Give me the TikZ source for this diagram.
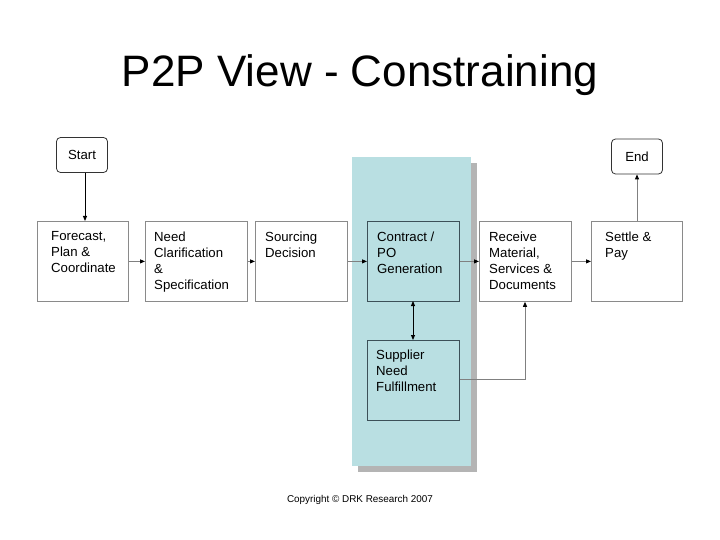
\documentclass[tikz,border=0pt]{standalone}
\usepackage{fontspec}
\setmainfont{Liberation Sans}
\usetikzlibrary{arrows.meta}
\definecolor{panelblue}{HTML}{B9DFE2}
\definecolor{shadowgray}{HTML}{B4B4B4}
\definecolor{boxline}{HTML}{8A8A8A}
\definecolor{darkline}{HTML}{3C5058}
\definecolor{arrowgray}{HTML}{808080}
\tikzset{
  procbox/.style={draw=boxline, line width=0.8pt, fill=white, minimum width=91pt, minimum height=80pt, inner sep=0pt, anchor=north west},
  innerbox/.style={draw=darkline, line width=0.8pt, fill=panelblue, minimum width=92pt, minimum height=80pt, inner sep=0pt, anchor=north west},
  termbox/.style={draw=black!80, line width=0.8pt, fill=white, rounded corners=4pt, minimum width=51pt, minimum height=35pt, inner sep=0pt, font=\fontsize{13.2}{15}\selectfont},
  boxtext/.style={anchor=north west, align=left, inner sep=0pt, font=\fontsize{13.2}{16}\selectfont},
  flow/.style={draw=arrowgray, line width=0.9pt, arrows={-{Triangle[length=5pt,width=4pt,color=black]}}},
  flowblack/.style={draw=black, line width=0.9pt, -{Triangle[length=5pt,width=4pt]}},
}
\begin{document}
\begin{tikzpicture}[x=1pt,y=-1pt]
\useasboundingbox (0,0) rectangle (720,540);
\fill[white] (0,0) rectangle (720,540);
% title
\node[font=\fontsize{44}{50}\selectfont, inner sep=0pt] (title) at (360,75) {P2P View - Constraining};
% panel with shadow
\fill[shadowgray] (358,163) rectangle (477,472);
\fill[panelblue] (352,157) rectangle (471,466);
% boxes
\node[procbox] (fc) at (37,221) {};
\node[procbox, minimum width=102pt] (nc) at (145,221) {};
\node[procbox, minimum width=92pt] (sd) at (255,221) {};
\node[innerbox] (po) at (367,221) {};
\node[innerbox] (sn) at (367,340) {};
\node[procbox, minimum width=92pt] (rm) at (479,221) {};
\node[procbox] (sp) at (591,221) {};
% texts
\node[boxtext] (fct) at ([shift={(14,10.5)}]fc.north west) {Forecast,\\Plan \&\\Coordinate};
\node[boxtext] (nct) at ([shift={(9,10.5)}]nc.north west) {Need\\Clarification\\\&\\Specification};
\node[boxtext] (sdt) at ([shift={(10,10.5)}]sd.north west) {Sourcing\\Decision};
\node[boxtext] (pot) at ([shift={(10,10.5)}]po.north west) {Contract /\\PO\\Generation};
\node[boxtext] (snt) at ([shift={(9,9.5)}]sn.north west) {Supplier\\Need\\Fulfillment};
\node[boxtext] (rmt) at ([shift={(10,10.5)}]rm.north west) {Receive\\Material,\\Services \&\\Documents};
\node[boxtext] (spt) at ([shift={(14,10.5)}]sp.north west) {Settle \&\\Pay};
% terminals
\node[termbox] (start) at (82,155) {Start};
\node[termbox] (end) at (637,156.5) {End};
% connectors
\draw[flowblack] (start.south -| 85,0) -- (fc.north -| 85,0);
\draw[flow] (fc.east) -- (nc.west);
\draw[flow] (nc.east) -- (sd.west);
\draw[flow] (sd.east) -- (po.west);
\draw[flow] (po.east) -- (rm.west);
\draw[flow] (rm.east) -- (sp.west);
\draw[flow] (sp.north -| end.south) -- (end.south);
\draw[flowblack, {Triangle[length=5pt,width=4pt]}-{Triangle[length=5pt,width=4pt]}] (413,301) -- (413,340);
\coordinate (corner) at (525,379);
\draw[draw=arrowgray, line width=0.9pt, -{Triangle[length=5pt,width=4pt,color=black]}] (sn.east |- corner) -- (corner) -- (rm.south -| corner);
% copyright
\node[font=\fontsize{9.9}{11}\selectfont, inner sep=0pt] (copy) at (360,500) {Copyright © DRK Research 2007};
\end{tikzpicture}
\end{document}
